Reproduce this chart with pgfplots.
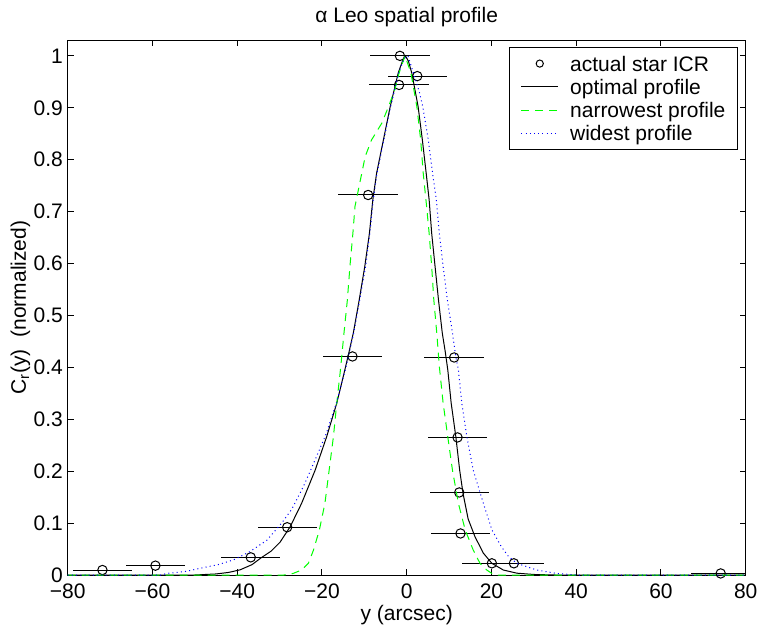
\documentclass[border=0pt]{standalone}
\usepackage{fontspec}
\setmainfont{Liberation Sans}
\usepackage{pgfplots}
\pgfplotsset{compat=1.18}
\pgfplotsset{legend image code/.code={\draw[#1] (0pt,0pt) -- (18.3pt,0pt);}}
\newcommand{\fs}{\fontsize{10.5}{12.6}\selectfont}
\begin{document}
\begin{tikzpicture}
\useasboundingbox (-33.85pt,-27.5pt) rectangle (345.15pt,287.5pt);
\begin{axis}[
  at={(0pt,0pt)}, anchor=south west,
  scale only axis, width=339pt, height=267.35pt,
  xmin=-80, xmax=80, ymin=0, ymax=1.03,
  xtick={-80,-60,-40,-20,0,20,40,60,80},
  xticklabels={−80,−60,−40,−20,0,20,40,60,80},
  ytick={0,0.1,0.2,0.3,0.4,0.5,0.6,0.7,0.8,0.9,1},
  yticklabels={0,0.1,0.2,0.3,0.4,0.5,0.6,0.7,0.8,0.9,1},
  tick align=inside, xtick pos=both, ytick pos=both,
  xticklabel pos=lower, yticklabel pos=left,
  major tick length=3pt,
  axis line style={line width=0.5pt, black},
  tick style={black, line width=0.5pt},
  xticklabel style={font=\fs, anchor=base, inner sep=0pt, yshift=-11.65pt},
  yticklabel style={font=\fs, anchor=east, inner sep=0pt, xshift=-2.2pt},
  every axis title shift=0pt,
  title={α Leo spatial profile},
  title style={font=\fs, at={(axis description cs:0.5,1.0329)}, anchor=base, inner sep=0pt},
  xlabel={y (arcsec)},
  xlabel style={font=\fs, at={(axis description cs:0.5,-0.0842)}, anchor=base, inner sep=0pt},
  ylabel={C\textsubscript{r}(y)\ \ (normalized)},
  ylabel style={font=\fs, at={(axis description cs:-0.0696,0.5)}, anchor=center, inner sep=0pt},
  clip mode=individual,
  legend style={font=\fs, at={(axis description cs:1,1)}, anchor=north east,
    xshift=-4pt, yshift=-3.5pt, draw=black, line width=0.5pt, fill=white,
    inner xsep=5.9pt, inner ysep=3.05pt, row sep=1.95pt,
    nodes={inner sep=0pt, text height=8.6pt, text depth=1.1pt},
    /tikz/every odd column/.append style={column sep=5.8pt}},
  legend cell align=left,
]
\addplot[only marks, mark=o, black, mark size=2.35pt, line width=0.5pt,
  legend image code/.code={\draw[black, line width=0.5pt] (9.15pt,0pt) circle (1.8pt);},
  error bars/.cd, x dir=both, x fixed=7, error mark=none,
  error bar style={line width=0.5pt, black}]
coordinates {
(-71.8,0.0096) (-59.3,0.018) (-36.8,0.034) (-28.2,0.092) (-12.8,0.421)
(-9.1,0.732) (-1.6,1.0) (-1.8,0.944) (2.5,0.961) (11.2,0.419)
(12.0,0.265) (12.4,0.159) (12.7,0.080) (20.1,0.0225) (25.3,0.0225) (74.1,0.003)
};
\addlegendentry{actual star ICR}
\addplot[black, line width=0.5pt]
coordinates {
(-80,0) (-50,0) (-45,0.002) (-42,0.005) (-39.3,0.01) (-36.5,0.02) (-34.2,0.034)
(-32,0.046) (-29.9,0.063) (-27.5,0.093) (-24.8,0.138) (-21.6,0.202) (-18.9,0.266)
(-16.5,0.331) (-14.6,0.395) (-13.6,0.43) (-12.6,0.466) (-11.2,0.53) (-9.9,0.594)
(-8.8,0.658) (-8.0,0.7225) (-7.1,0.774) (-5.5,0.838) (-3.9,0.902) (-2.0,0.967)
(-1.0,0.99) (-0.3,1.0) (0.4,0.99) (1.2,0.967) (2.7,0.902) (3.7,0.838) (4.6,0.774)
(5.3,0.7225) (5.9,0.658) (6.7,0.594) (7.5,0.53) (8.4,0.466) (9.1,0.43) (9.7,0.395)
(10.5,0.331) (11.6,0.266) (12.5,0.202) (13.3,0.157) (14.5,0.108) (16.1,0.074)
(18.1,0.042) (20.1,0.0225) (22.8,0.0096) (26.0,0.0035) (30,0.001) (35,0) (80,0)
};
\addlegendentry{optimal profile}
\addplot[color={rgb,1:red,0;green,1;blue,0}, line width=0.5pt, dash pattern=on 4pt off 3pt]
coordinates {
(-80,0) (-29,0) (-26.8,0.003) (-24.8,0.0096) (-23.2,0.0225) (-22.0,0.048)
(-20.6,0.087) (-19.3,0.138) (-18.3,0.202) (-17.3,0.266) (-16.5,0.331) (-15.6,0.398)
(-14.8,0.466) (-14.0,0.53) (-13.4,0.594) (-12.7,0.658) (-12.2,0.71) (-11.4,0.742)
(-10.6,0.774) (-9.8,0.806) (-8.3,0.838) (-5.9,0.87) (-4.3,0.902) (-2.8,0.935)
(-1.8,0.967) (-0.4,1.0) (1.0,0.967) (2.4,0.902) (3.3,0.838) (3.9,0.774) (4.7,0.71)
(5.3,0.658) (5.9,0.594) (6.4,0.53) (7.1,0.466) (7.7,0.402) (8.6,0.331) (9.7,0.266)
(10.8,0.202) (12.2,0.138) (13.8,0.087) (15.7,0.048) (17.3,0.0225) (18.9,0.0096)
(20.1,0.003) (21.5,0) (80,0)
};
\addlegendentry{narrowest profile}
\addplot[color={rgb,1:red,0;green,0;blue,1}, line width=0.5pt, dash pattern=on 0.5pt off 1.6pt]
coordinates {
(-80,0) (-58,0) (-56.6,0.003) (-52,0.007) (-48.7,0.013) (-44.5,0.02) (-40.9,0.029)
(-37,0.045) (-33,0.067) (-29.5,0.1) (-27.1,0.127) (-24.4,0.17) (-21.6,0.222)
(-19,0.272) (-16.6,0.331) (-14.5,0.395) (-12.5,0.466) (-11.1,0.53) (-9.7,0.594)
(-8.7,0.658) (-7.9,0.7225) (-7.0,0.774) (-5.4,0.838) (-3.8,0.902) (-1.9,0.967)
(-0.6,0.995) (0.3,1.0) (1.6,0.967) (3.0,0.93) (3.8,0.902) (5.1,0.838) (6.1,0.774)
(7.0,0.7225) (7.7,0.658) (8.6,0.594) (9.6,0.53) (10.8,0.466) (11.6,0.42)
(12.2,0.395) (13.0,0.331) (14.2,0.266) (15.7,0.202) (18.1,0.138) (20.1,0.087)
(22.3,0.055) (24,0.036) (26.0,0.0225) (30.7,0.0096) (35.4,0.003) (40,0) (80,0)
};
\addlegendentry{widest profile}
\end{axis}
\end{tikzpicture}
\end{document}
